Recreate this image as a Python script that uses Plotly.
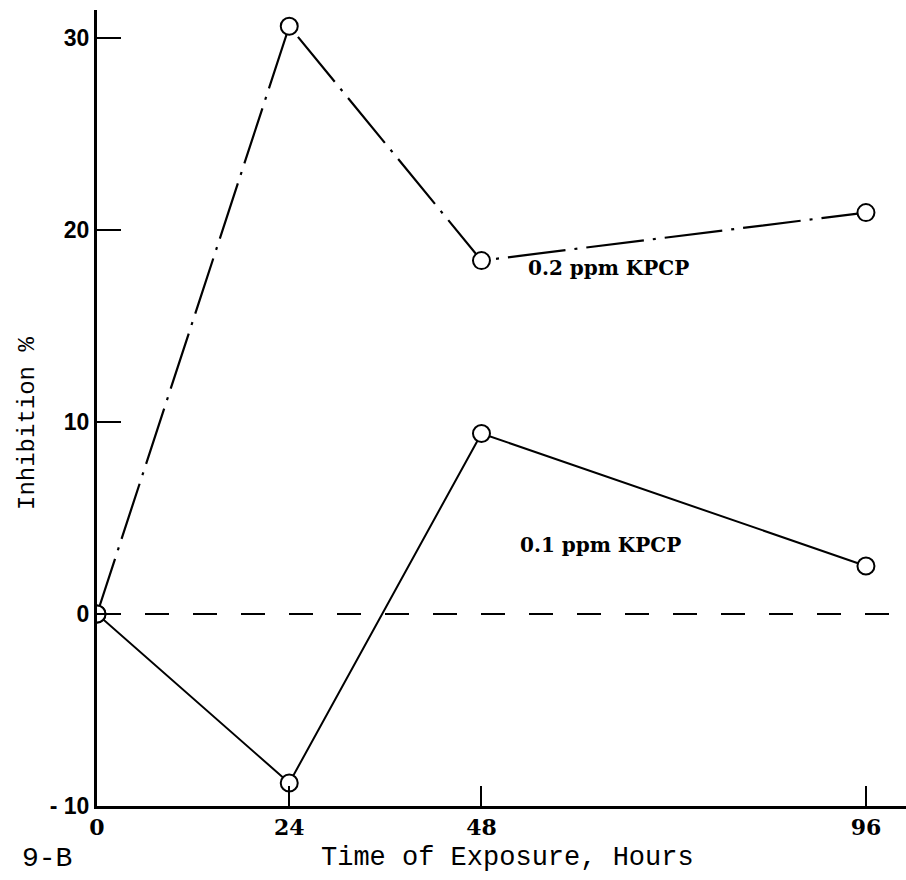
import plotly.graph_objects as go

# Exposure time (hours) and percent inhibition for each concentration
hours = [0, 24, 48, 96]
inhib_02 = [0, 30.6, 18.4, 20.9]
inhib_01 = [0, -8.8, 9.4, 2.5]
baseline_x = [0, 99]
baseline_y = [0, 0]

x_ticks = [0, 24, 48, 96]
x_ticklabels = ["0", "24", "48", "96"]
y_ticks = [-10, 0, 10, 20, 30]
y_ticklabels = ["- 10", "0", "10", "20", "30"]

W, H = 906, 880
ML, MR, MT, MB = 97, 0, 10, 74
PW, PH = W - ML - MR, H - MT - MB

marker = dict(symbol="circle", size=17, color="white", line=dict(color="black", width=2))

fig = go.Figure()
fig.add_trace(go.Scatter(x=baseline_x, y=baseline_y, mode="lines",
                         line=dict(color="black", width=2, dash="24px,24px"),
                         hoverinfo="skip"))
fig.add_trace(go.Scatter(x=hours, y=inhib_02, mode="lines+markers", name="0.2 ppm KPCP",
                         line=dict(color="black", width=2.2, dash="58px,9px,3px,9px"),
                         marker=marker))
fig.add_trace(go.Scatter(x=hours, y=inhib_01, mode="lines+markers", name="0.1 ppm KPCP",
                         line=dict(color="black", width=2),
                         marker=marker))

serif = "DejaVu Serif"
mono = "Liberation Mono"


def px_x(p):
    return (p - ML) / PW


def px_y(p):
    return (H - MB - p) / PH


fig.add_annotation(x=63.8, y=18.0, text="<b>0.2 ppm KPCP</b>", showarrow=False,
                   xanchor="center", yanchor="middle",
                   font=dict(family=serif, size=20, color="black"))
fig.add_annotation(x=62.9, y=3.6, text="<b>0.1 ppm KPCP</b>", showarrow=False,
                   xanchor="center", yanchor="middle",
                   font=dict(family=serif, size=20, color="black"))
fig.add_annotation(xref="paper", yref="paper", x=px_x(27), y=px_y(424),
                   xanchor="center", yanchor="middle",
                   text="Inhibition %", textangle=-90, showarrow=False,
                   font=dict(family=mono, size=24, color="black"))
fig.add_annotation(xref="paper", yref="paper", x=px_x(507), y=px_y(858),
                   xanchor="center", yanchor="middle",
                   text="Time of Exposure, Hours", showarrow=False,
                   font=dict(family=mono, size=27, color="black"))
fig.add_annotation(xref="paper", yref="paper", x=px_x(47), y=px_y(858),
                   xanchor="center", yanchor="middle",
                   text="9-B", showarrow=False,
                   font=dict(family=mono, size=28, color="black"))

fig.update_layout(
    width=W, height=H,
    margin=dict(l=ML, r=MR, t=MT, b=MB),
    paper_bgcolor="white", plot_bgcolor="white",
    showlegend=False,
    xaxis=dict(range=[0, 101], tickmode="array", tickvals=x_ticks, ticktext=x_ticklabels,
               ticks="inside", ticklen=20, tickwidth=2, tickcolor="black",
               showline=True, linecolor="black", linewidth=3, showgrid=False, zeroline=False,
               tickfont=dict(family=serif, size=22, color="black", weight="bold")),
    yaxis=dict(range=[-10, 31.45], tickmode="array", tickvals=y_ticks, ticktext=y_ticklabels,
               ticks="inside", ticklen=24, tickwidth=2, tickcolor="black",
               showline=True, linecolor="black", linewidth=3, showgrid=False, zeroline=False,
               tickfont=dict(family="Liberation Sans", size=23, color="black", weight="bold")),
)

fig.write_html("out.html")
